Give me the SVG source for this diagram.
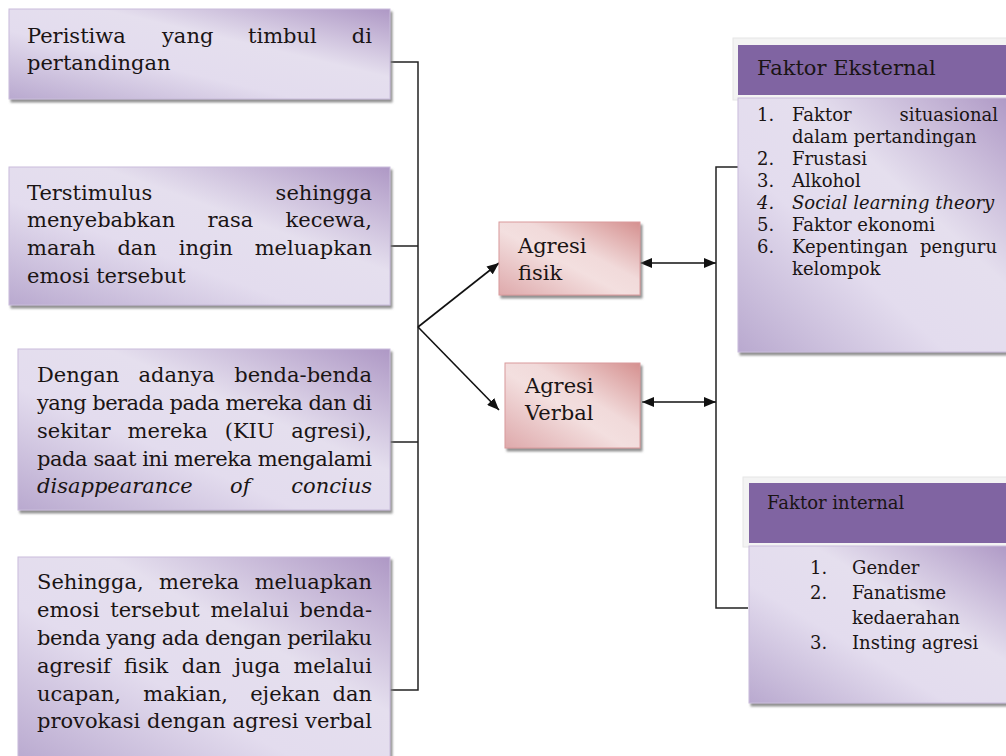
<svg xmlns="http://www.w3.org/2000/svg" width="1006" height="756" viewBox="0 0 1006 756">
<defs>
<linearGradient id="lav" x1="0" y1="1" x2="1" y2="0">
<stop offset="0" stop-color="#b9a9cf"/>
<stop offset="0.38" stop-color="#e3dcee"/>
<stop offset="0.62" stop-color="#e5dfee"/>
<stop offset="1" stop-color="#ae98c5"/>
</linearGradient>
<linearGradient id="pink" x1="0" y1="1" x2="1" y2="0">
<stop offset="0" stop-color="#dea9ab"/>
<stop offset="0.45" stop-color="#f3dfdf"/>
<stop offset="0.6" stop-color="#f1dada"/>
<stop offset="1" stop-color="#d5908f"/>
</linearGradient>
<filter id="sh" x="-5%" y="-5%" width="115%" height="120%">
<feDropShadow dx="2" dy="3" stdDeviation="1" flood-color="#7f7f7f" flood-opacity="0.85"/>
</filter>
<marker id="ah" viewBox="0 0 12 10" refX="12" refY="5" markerWidth="12" markerHeight="10" markerUnits="userSpaceOnUse" orient="auto-start-reverse">
<path d="M0,0 L12,5 L0,10 Z" fill="#111"/>
</marker>
<style>
.box{fill:url(#lav);stroke:#c9bcdb;stroke-width:1;filter:url(#sh)}
.pbox{fill:url(#pink);stroke:#d99a9c;stroke-width:1;filter:url(#sh)}
.hdr{fill:#8064a2}
.frame{fill:#f3f3f3;stroke:#e6e6e6;stroke-width:1}
.t{font-family:"DejaVu Serif","Liberation Serif",serif;font-size:21px;fill:#1a1414}
.s{font-family:"DejaVu Serif","Liberation Serif",serif;font-size:18px;fill:#1a1414}
.i{font-style:italic}
.e{text-anchor:end}
.ln{fill:none;stroke:#222;stroke-width:1.5}
.ar{fill:none;stroke:#111;stroke-width:1.6}
</style>
</defs>

<g id="connectors">
<path class="ln" d="M390,62 H418 V690 H390 M390,246 H418 M390,442 H418"/>
<path class="ar" d="M418,327 L499,263" marker-end="url(#ah)"/>
<path class="ar" d="M418,327 L499,410" marker-end="url(#ah)"/>
<path class="ar" d="M640,263 H716" marker-start="url(#ah)" marker-end="url(#ah)"/>
<path class="ar" d="M642,402 H716" marker-start="url(#ah)" marker-end="url(#ah)"/>
<path class="ln" d="M738,167 H716 V608 H748"/>
</g>

<g id="node-peristiwa">
<rect class="box" x="9" y="9" width="381" height="90"/>
<text class="t" y="43"><tspan x="27">Peristiwa</tspan><tspan x="162">yang</tspan><tspan x="248">timbul</tspan></text>
<text class="t e" x="372" y="43">di</text>
<text class="t" x="27" y="70">pertandingan</text>
</g>

<g id="node-terstimulus">
<rect class="box" x="9" y="167" width="381" height="138"/>
<text class="t" x="27" y="200">Terstimulus</text>
<text class="t e" x="372" y="200">sehingga</text>
<text class="t" y="227"><tspan x="27">menyebabkan</tspan><tspan x="207.5">rasa</tspan></text>
<text class="t e" x="372" y="227">kecewa,</text>
<text class="t" y="255"><tspan x="27">marah</tspan><tspan x="117.4">dan</tspan><tspan x="178.8">ingin</tspan></text>
<text class="t e" x="372" y="255">meluapkan</text>
<text class="t" x="27" y="283">emosi tersebut</text>
</g>

<g id="node-dengan">
<rect class="box" x="18" y="349" width="372" height="161"/>
<text class="t" y="382"><tspan x="37">Dengan</tspan><tspan x="138.5">adanya</tspan></text>
<text class="t e" x="372" y="382">benda-benda</text>
<text class="t" x="37" y="410" textLength="335" lengthAdjust="spacing">yang berada pada mereka dan di</text>
<text class="t" y="438"><tspan x="37">sekitar</tspan><tspan x="127.6">mereka</tspan><tspan x="224.7">(KIU</tspan></text>
<text class="t e" x="372" y="438">agresi),</text>
<text class="t" x="37" y="466" textLength="335" lengthAdjust="spacing">pada saat ini mereka mengalami</text>
<text class="t i" y="493"><tspan x="37">disappearance</tspan><tspan x="230">of</tspan></text>
<text class="t i e" x="372" y="493">concius</text>
</g>

<g id="node-sehingga">
<rect class="box" x="18" y="557" width="372" height="205"/>
<text class="t" y="589"><tspan x="37">Sehingga,</tspan><tspan x="159.1">mereka</tspan></text>
<text class="t e" x="372" y="589">meluapkan</text>
<text class="t" y="617"><tspan x="37">emosi</tspan><tspan x="110.2">tersebut</tspan><tspan x="210.4">melalui</tspan></text>
<text class="t e" x="372" y="617">benda-</text>
<text class="t" x="37" y="645" textLength="335" lengthAdjust="spacing">benda yang ada dengan perilaku</text>
<text class="t" y="673"><tspan x="37">agresif</tspan><tspan x="123.9">fisik</tspan><tspan x="181.7">dan</tspan><tspan x="234.4">juga</tspan></text>
<text class="t e" x="372" y="673">melalui</text>
<text class="t" y="701"><tspan x="37">ucapan,</tspan><tspan x="143.3">makian,</tspan><tspan x="250.2">ejekan</tspan></text>
<text class="t e" x="372" y="701">dan</text>
<text class="t" x="37" y="728" textLength="335" lengthAdjust="spacing">provokasi dengan agresi verbal</text>
</g>

<g id="node-agresi-fisik">
<rect class="pbox" x="499" y="222" width="141" height="73"/>
<text class="t" x="518" y="253">Agresi</text>
<text class="t" x="518" y="280">fisik</text>
</g>

<g id="node-agresi-verbal">
<rect class="pbox" x="505" y="363" width="135" height="85"/>
<text class="t" x="525" y="393">Agresi</text>
<text class="t" x="525" y="420">Verbal</text>
</g>

<g id="node-faktor-eksternal">
<rect class="frame" x="733" y="38" width="280" height="62"/>
<rect class="hdr" x="738" y="45" width="275" height="50"/>
<text class="t" x="757" y="75">Faktor Eksternal</text>
<rect class="box" x="738" y="98" width="275" height="254"/>
<text class="s" x="757" y="121">1.</text>
<text class="s" x="792" y="121">Faktor</text>
<text class="s e" x="998" y="121">situasional</text>
<text class="s" x="792" y="143">dalam pertandingan</text>
<text class="s" x="757" y="165">2.</text>
<text class="s" x="792" y="165">Frustasi</text>
<text class="s" x="757" y="187">3.</text>
<text class="s" x="792" y="187">Alkohol</text>
<text class="s i" x="757" y="209">4.</text>
<text class="s i" x="792" y="209">Social learning theory</text>
<text class="s" x="757" y="231">5.</text>
<text class="s" x="792" y="231">Faktor ekonomi</text>
<text class="s" x="757" y="253">6.</text>
<text class="s" x="792" y="253">Kepentingan</text>
<text class="s e" x="997" y="253">penguru</text>
<text class="s" x="792" y="275">kelompok</text>
</g>

<g id="node-faktor-internal">
<rect class="frame" x="743" y="477" width="270" height="70"/>
<rect class="hdr" x="749" y="483" width="264" height="60"/>
<text class="s" x="767" y="509">Faktor internal</text>
<rect class="box" x="749" y="546" width="264" height="157"/>
<text class="s" x="810" y="574">1.</text>
<text class="s" x="852" y="574">Gender</text>
<text class="s" x="810" y="599">2.</text>
<text class="s" x="852" y="599">Fanatisme</text>
<text class="s" x="852" y="624">kedaerahan</text>
<text class="s" x="810" y="649">3.</text>
<text class="s" x="852" y="649">Insting agresi</text>
</g>
</svg>
